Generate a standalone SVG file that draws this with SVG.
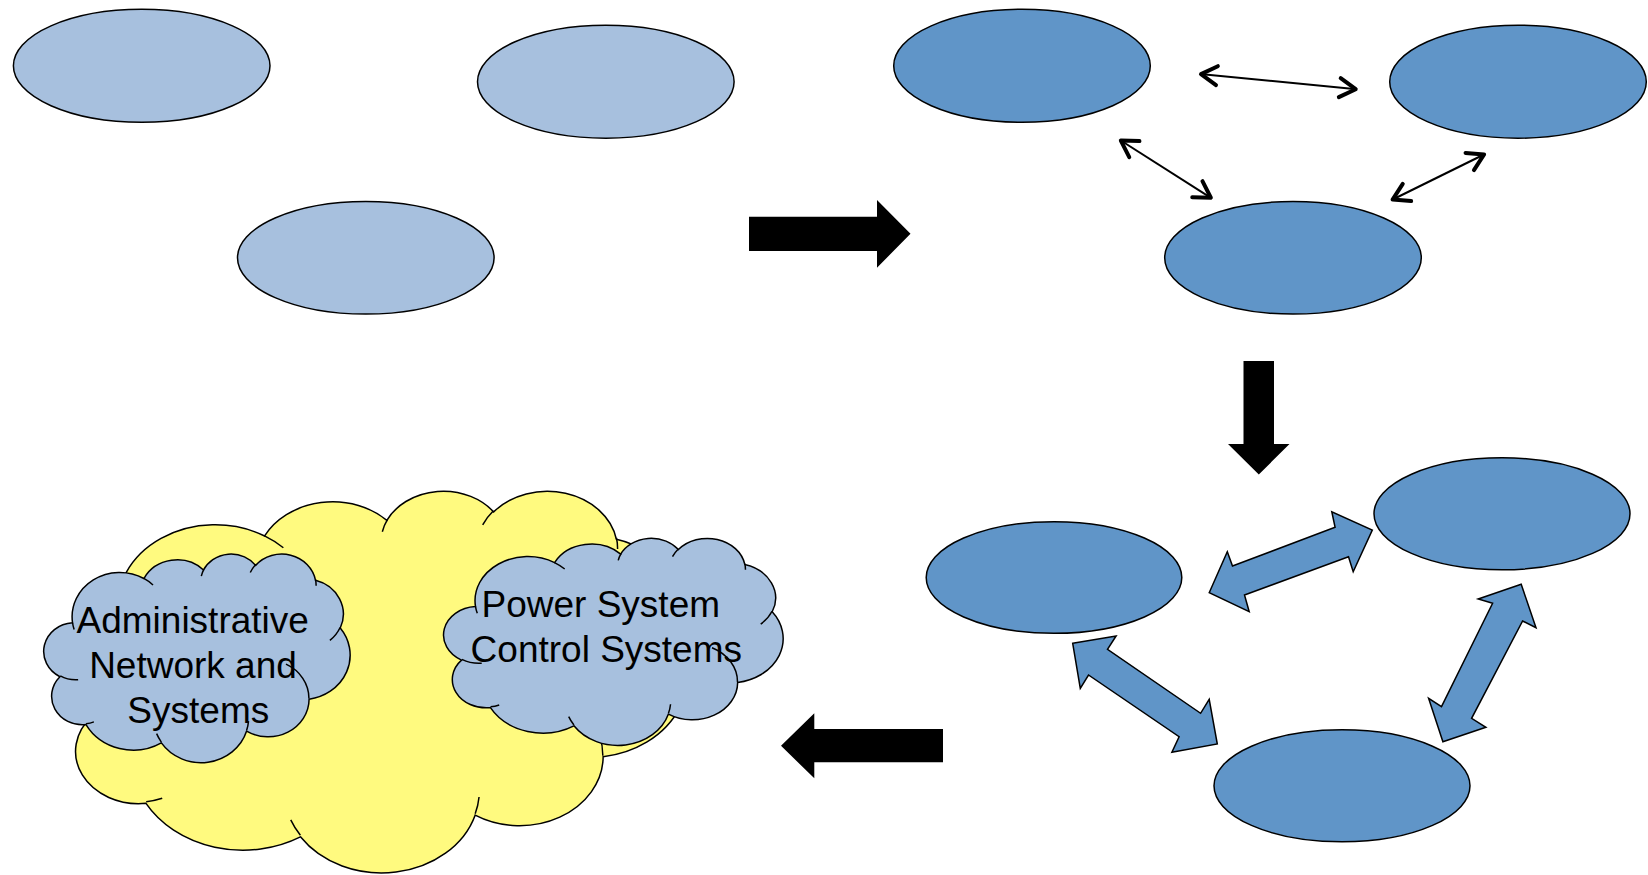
<svg xmlns="http://www.w3.org/2000/svg" xmlns:xlink="http://www.w3.org/1999/xlink" width="1648" height="875" viewBox="0 0 1648 875">
<style>
.light{fill:#A7C0DE;stroke:#000;stroke-width:1.5}
.dark{fill:#6095C8;stroke:#000;stroke-width:1.5}
.blk{fill:#000;stroke:none}
.thin{fill:none;stroke:#000;stroke-width:2;marker-start:url(#open);marker-end:url(#open)}
.lbl{font-family:"Liberation Sans",Arial,sans-serif;font-size:37px;fill:#000;text-anchor:middle}
</style>
<defs>
<marker id="open" viewBox="-24 -14 28 28" markerWidth="28" markerHeight="28" refX="0" refY="0" orient="auto-start-reverse" markerUnits="userSpaceOnUse">
<path d="M-17,-9.5 L-1,0 L-17,9.5" fill="none" stroke="#000" stroke-width="4" stroke-linecap="round" stroke-linejoin="round"/>
</marker>
<path id="cloudOutline" stroke="#000" stroke-width="1.5" vector-effect="non-scaling-stroke" d="M3900,14370 A6753,9190 0 0 1 14005,5202 A5333,7267 0 0 1 22456,3432 A4365,5945 0 0 1 29833,2480 A4857,6595 0 0 1 38319,5575 A5333,7273 0 0 1 41819,15459 A6775,9220 0 0 1 37405,30202 A5785,7867 0 0 1 28556,36812 A6752,9215 0 0 1 16481,39264 A7720,10543 0 0 1 5805,35471 A4360,5918 0 0 1 2113,25550 A4345,5945 0 0 1 3900,14370 Z"/>
<path id="cloudDetail" fill="none" stroke="#000" stroke-width="1.5" vector-effect="non-scaling-stroke" d="M4693,26177 A4345,5945 0 0 1 2160,25380 M6928,34899 A4360,5918 0 0 1 5819,35281 M16478,39090 A6752,9215 0 0 1 15810,37349 M28827,34751 A6752,9215 0 0 1 28560,36660 M34129,22954 A5785,7867 0 0 1 37381,30090 M41798,15354 A5333,7273 0 0 1 40352,18027 M38324,5426 A4857,6595 0 0 1 38400,6689 M29078,3952 A4857,6595 0 0 1 29819,2341 M22141,4720 A4365,5945 0 0 1 22500,3330 M14000,5192 A6753,9190 0 0 1 15300,6540 M4127,15789 A6753,9190 0 0 1 3900,14371"/>
</defs>

<g id="stage1">
<ellipse id="e1" class="light" cx="141.7" cy="65.8" rx="128.3" ry="56.5"/>
<ellipse id="e2" class="light" cx="605.8" cy="81.7" rx="128.3" ry="56.5"/>
<ellipse id="e3" class="light" cx="365.8" cy="257.8" rx="128.3" ry="56.3"/>
</g>

<g id="stage2">
<ellipse id="e4" class="dark" cx="1022" cy="65.8" rx="128.3" ry="56.5"/>
<ellipse id="e5" class="dark" cx="1518" cy="81.7" rx="128.3" ry="56.5"/>
<ellipse id="e6" class="dark" cx="1293" cy="257.8" rx="128.3" ry="56.3"/>
</g>

<g id="stage3">
<ellipse id="e7" class="dark" cx="1054" cy="577.5" rx="127.8" ry="55.8"/>
<ellipse id="e8" class="dark" cx="1502" cy="513.8" rx="128" ry="56"/>
<ellipse id="e9" class="dark" cx="1342" cy="785.8" rx="128" ry="56"/>
</g>

<g id="stage4">
<g id="yellow-cloud" transform="translate(62,490) scale(0.0144676,0.0088333)">
<use xlink:href="#cloudOutline" href="#cloudOutline" fill="#FFFA7F"/>
<use xlink:href="#cloudDetail" href="#cloudDetail"/>
</g>
<g id="admin-cloud">
<g transform="translate(45,553.4) scale(0.0070602,0.0048264)">
<use xlink:href="#cloudOutline" href="#cloudOutline" fill="#A7C0DE"/>
<use xlink:href="#cloudDetail" href="#cloudDetail"/>
</g>
<text class="lbl" x="192.7" y="633.3">Administrative</text>
<text class="lbl" x="193" y="678.3">Network and</text>
<text class="lbl" x="198.3" y="723.3">Systems</text>
</g>
<g id="power-cloud">
<g transform="translate(445,537.7) scale(0.0078241,0.0047917)">
<use xlink:href="#cloudOutline" href="#cloudOutline" fill="#A7C0DE"/>
<use xlink:href="#cloudDetail" href="#cloudDetail"/>
</g>
<text class="lbl" x="600.8" y="616.7">Power System</text>
<text class="lbl" x="606.3" y="661.7">Control Systems</text>
</g>
</g>

<g id="connectors">
<path id="arrow-right" class="blk" d="M749,216.7 H877 V200 L910.5,233.8 L877,267.7 V251 H749 Z"/>
<path id="arrow-down" class="blk" d="M1243.5,361 H1274 V444 H1289.5 L1258.8,474.5 L1228,444 H1243.5 Z"/>
<path id="arrow-left" class="blk" d="M943,729 H814.3 V713.3 L781,745.8 L814.3,778.3 V762.3 H943 Z"/>
<line id="t1" class="thin" x1="1200" y1="74" x2="1356.7" y2="89.3"/>
<line id="t2" class="thin" x1="1120" y1="140" x2="1211.7" y2="198.3"/>
<line id="t3" class="thin" x1="1485" y1="154" x2="1391.7" y2="200"/>
<polygon id="b1" class="dark" points="1209.2,592.7 1227.3,551.7 1232.5,566 1335.1,527.3 1331.8,511.7 1372.3,530 1353.2,571.7 1348.5,556.7 1244.5,595 1249.2,611.7"/>
<polygon id="b2" class="dark" points="1072.7,643.3 1116.1,636 1107.5,649.3 1200.6,713.3 1209.2,699.3 1217.3,744 1171.9,752.3 1179.1,736.7 1088.5,675 1080.3,688.3"/>
<polygon id="b3" class="dark" points="1521.2,584.3 1536,627.7 1522.6,621 1471.6,718.3 1485.9,727.3 1442.9,741.7 1428.6,698.3 1441.5,706.7 1492.6,603.3 1478.2,599"/>
</g>
</svg>
